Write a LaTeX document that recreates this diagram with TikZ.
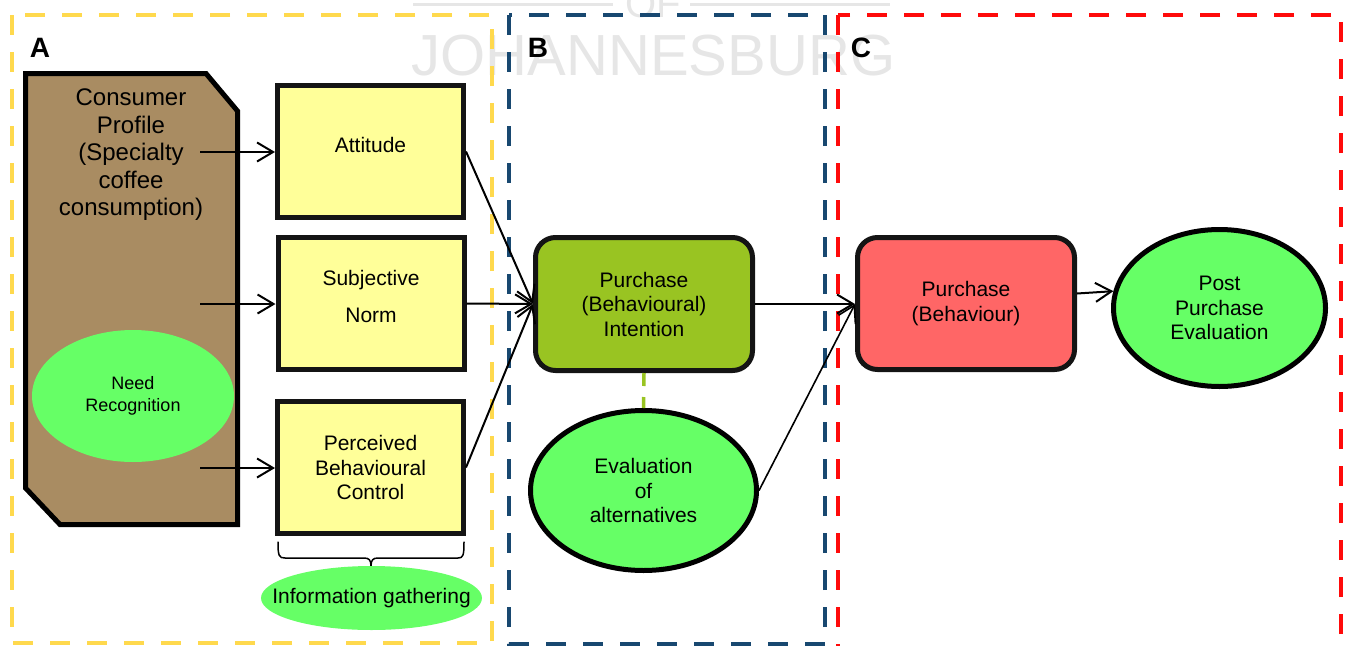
\documentclass[tikz,border=0pt]{standalone}
\usepackage{fontspec}
\setmainfont{Liberation Sans}
\usetikzlibrary{arrows.meta,shapes.geometric}

\definecolor{frameyellow}{RGB}{255,217,77}
\definecolor{frameblue}{RGB}{24,72,112}
\definecolor{framered}{RGB}{255,10,10}
\definecolor{profilebrown}{RGB}{169,140,98}
\definecolor{boxyellow}{RGB}{255,255,153}
\definecolor{ovalgreen}{RGB}{102,255,102}
\definecolor{intentgreen}{RGB}{153,196,34}
\definecolor{behavred}{RGB}{255,102,102}
\definecolor{wmgray}{RGB}{230,230,230}

\newcommand\setfs[2]{\fontsize{#1}{#2}\selectfont}

\begin{document}
\begin{tikzpicture}[x=1pt,y=-1pt,
  frame/.style={line width=4pt, dash pattern=on 20pt off 17pt},
  box/.style={draw=black!92, line width=5pt, fill=boxyellow,
    minimum width=186pt, minimum height=132pt, inner sep=0pt,
    align=center, font=\setfs{21}{24.5}},
  rbox/.style={box, rounded corners=20pt, minimum width=217pt, minimum height=133pt},
  oval/.style={ellipse, draw=black, line width=5pt, fill=ovalgreen, inner sep=0pt,
    align=center, font=\setfs{21}{24.5}},
  softoval/.style={ellipse, fill=ovalgreen, inner sep=0pt, align=center},
  arr/.style={line width=2pt, -{Straight Barb[length=16pt,width=19pt]}},
  thinarr/.style={line width=1.6pt, -{Straight Barb[length=16pt,width=19pt]}},
  tag/.style={font=\bfseries\setfs{28}{30}}
]
\useasboundingbox (0,0) rectangle (1346,645);

% watermark behind everything
\draw[wmgray, line width=3pt] (413,4.5) -- (613,4.5);
\draw[wmgray, line width=3pt] (690,4.5) -- (890,4.5);
\node[wmgray, anchor=base, font=\setfs{40}{40}, inner sep=0pt] (wmof) at (653,17) {OF};
\node[wmgray, anchor=base, font=\setfs{58}{58}, inner sep=0pt] (wmname) at (653.5,75) {JOHANNESBURG};

% stage frames
\draw[frame, frameyellow] (12,15) rectangle (492,643);
\draw[frame, frameblue] (509,15) rectangle (825,644);
\draw[frame, framered] (838,15) rectangle (1341,665);

\node[tag] (tagA) at (40,48) {A};
\node[tag] (tagB) at (538,48) {B};
\node[tag] (tagC) at (861,48) {C};

% consumer profile (cut-corner panel)
\draw[fill=profilebrown, draw=black, line width=5pt, line join=miter]
  (25.5,73.5) -- (206,73.5) -- (237.5,111) -- (237.5,524.5) -- (60,524.5) -- (25.5,488) -- cycle;
\node[align=center, font=\setfs{24}{27.5}] (profile) at (131,155)
  {Consumer\\Profile\\(Specialty\\coffee\\consumption)};
\node[softoval, minimum width=202pt, minimum height=132pt, font=\setfs{18}{22}] (need) at (133,396)
  {Need\\Recognition};

\coordinate (p1) at (200,152);
\coordinate (p2) at (200,304);
\coordinate (p3) at (200,468);

% determinants
\node[box] (att) at (370.5,151.5) {\raisebox{5pt}[0.75em][0.2em]{Attitude}};
\node[box] (sn) at (371,303.5) {Subjective\\[12.5pt]Norm\rule[-14pt]{0pt}{14pt}};
\node[box] (pbc) at (370.5,467.5) {Perceived\\Behavioural\\Control};

\draw[line width=1.5pt, line cap=round, line join=round]
  (278,542) .. controls (278,556) and (279,558) .. (285,558) -- (364,558)
  .. controls (369,558) and (371,560) .. (371,566)
  .. controls (371,560) and (373,558) .. (378,558) -- (458,558)
  .. controls (463,558) and (464,556) .. (464,542);
\node[softoval, minimum width=221pt, minimum height=64pt, font=\setfs{21}{24}] (info) at (371.5,598)
  {\makebox[0pt]{Information gathering}};

% intention and evaluation
\node[rbox, fill=intentgreen] (pi) at (644,304) {Purchase\\(Behavioural)\\Intention};
\node[oval, minimum width=226pt, minimum height=160pt] (ev) at (643.5,490.5)
  {Evaluation\\of\\alternatives};

% behaviour and post-purchase
\node[rbox, fill=behavred, minimum height=132pt] (pb) at (966,303.5)
  {\rule{0pt}{4pt}Purchase\\(Behaviour)};
\node[oval, minimum width=212pt, minimum height=157pt] (ppe) at (1219.5,308)
  {Post\\Purchase\\Evaluation};

% connectors
\draw[arr] (p1) -- (p1 -| att.west);
\draw[arr] (p2) -- (p2 -| sn.west);
\draw[arr] (p3) -- (p3 -| pbc.west);

\draw[arr] (att.east) -- (pi.west);
\draw[arr] (sn.east) -- (pi.west);
\draw[arr] (pbc.east) -- (pi.west);

\draw[intentgreen, line width=3.5pt, dash pattern=on 13pt off 11pt] (pi.south) -- (ev.north);

\draw[arr] (pi.east) -- (pi.east -| pb.west);
\draw[thinarr] (ev.east) -- (pi.east -| pb.west);

\draw[arr] ([yshift=10pt]pb.east) -- (ppe.171);
\end{tikzpicture}
\end{document}
